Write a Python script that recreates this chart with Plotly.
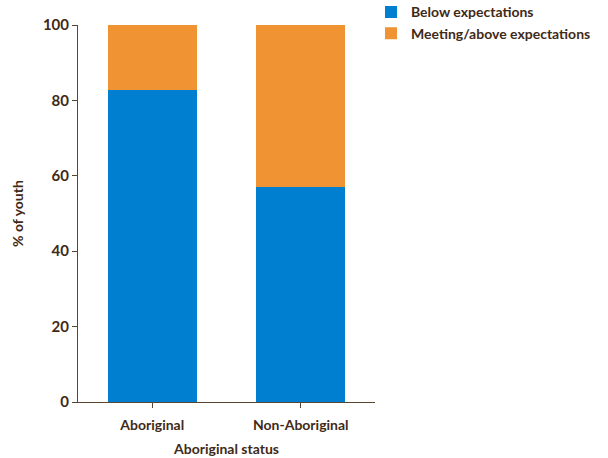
import plotly.graph_objects as go

categories = ["Aboriginal", "Non-Aboriginal"]
below = [82.7, 57.0]
meeting = [17.3, 43.0]
series_names = ["Below expectations", "Meeting/above expectations"]
y_ticks = [0, 20, 40, 60, 80, 100]

text_col = "#3f2a17"
axis_col = "#5a4530"
font_fam = "Lato, 'Open Sans', sans-serif"

fig = go.Figure()
fig.add_trace(go.Bar(x=categories, y=below, name=series_names[0],
                     marker=dict(color="#007fd0", line=dict(width=0)), width=0.6))
fig.add_trace(go.Bar(x=categories, y=meeting, name=series_names[1],
                     marker=dict(color="#ef9333", line=dict(width=0)), width=0.6))

fig.update_layout(
    width=608, height=458,
    barmode="stack",
    margin=dict(l=78, r=233, t=25, b=56, autoexpand=False),
    plot_bgcolor="white", paper_bgcolor="white",
    font=dict(family=font_fam, size=14, color=text_col),
    legend=dict(x=0.9865, y=1.076, xanchor="left", yanchor="top",
                font=dict(family=font_fam, size=14, color=text_col, weight="bold"),
                traceorder="normal", tracegroupgap=0, itemwidth=30),
    showlegend=True,
    bargap=0.4,
)
fig.update_xaxes(
    range=[-0.5, 1.5], showline=True, linecolor=axis_col, linewidth=1,
    ticks="outside", ticklen=5, tickcolor=axis_col, showgrid=False, automargin=False,
    ticklabelstandoff=5,
    tickfont=dict(family=font_fam, size=14, color=text_col, weight="bold"),
    title=dict(text="Aboriginal status", standoff=12,
               font=dict(family=font_fam, size=14, color=text_col, weight="bold")),
)
fig.update_yaxes(
    range=[0, 100], tickvals=y_ticks, showline=True, linecolor=axis_col, linewidth=1,
    ticks="outside", ticklen=5, tickcolor=axis_col, showgrid=False, zeroline=False,
    automargin=False,
    tickfont=dict(family=font_fam, size=15, color=text_col, weight="bold"),
    title=dict(text="% of youth", standoff=15,
               font=dict(family=font_fam, size=14, color=text_col, weight="bold")),
)

fig.write_html("out.html", config={"displayModeBar": False},
               post_script="document.body.style.margin='0';document.body.style.padding='0';")
